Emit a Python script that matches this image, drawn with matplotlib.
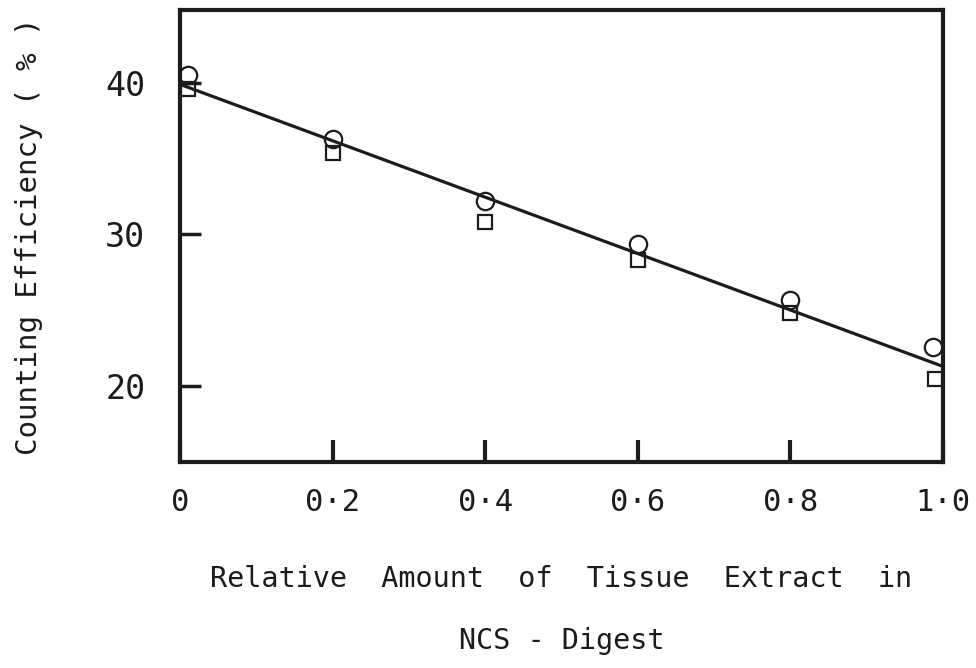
import matplotlib
matplotlib.use("Agg")
import matplotlib.pyplot as plt

# Data
x_circle = [0.01, 0.2, 0.4, 0.6, 0.8, 0.987]
y_circle = [40.5, 36.3, 32.2, 29.4, 25.7, 22.6]
x_square = [0.01, 0.2, 0.4, 0.6, 0.8, 0.99]
y_square = [39.6, 35.4, 30.8, 28.3, 24.8, 20.5]
line_x = [0.0, 1.0]
line_y = [39.9, 21.3]

x_ticks = [0, 0.2, 0.4, 0.6, 0.8, 1.0]
x_ticklabels = ["0", "0\u00b72", "0\u00b74", "0\u00b76", "0\u00b78", "1\u00b70"]
y_ticks = [20, 30, 40]
y_ticklabels = ["20", "30", "40"]

FONT = ['DejaVu Sans Mono', 'DejaVu Sans']
plt.rcParams['font.family'] = FONT
INK = "#1c1c1c"

fig = plt.figure(figsize=(9.76, 6.68), dpi=100)
ax = fig.add_axes([0.1844, 0.3084, 0.7818, 0.6766])

ax.plot(line_x, line_y, color=INK, lw=2.3, solid_capstyle="butt", zorder=2)
ax.plot(x_circle, y_circle, linestyle="none", marker="o", markersize=12.5,
        markerfacecolor="none", markeredgecolor=INK, markeredgewidth=1.6,
        clip_on=False, zorder=3)
ax.plot(x_square, y_square, linestyle="none", marker="s", markersize=10.5,
        markerfacecolor="none", markeredgecolor=INK, markeredgewidth=1.6,
        clip_on=False, zorder=3)

ax.set_xlim(0, 1.0)
ax.set_ylim(15, 44.8)

for s in ax.spines.values():
    s.set_linewidth(3.0)
    s.set_color(INK)

ax.set_xticks(x_ticks)
ax.set_xticklabels(x_ticklabels, fontsize=22, color=INK)
ax.set_yticks(y_ticks)
ax.set_yticklabels(y_ticklabels, fontsize=24, color=INK)
ax.tick_params(axis="x", direction="in", length=16, width=3, pad=19, colors=INK)
ax.tick_params(axis="y", direction="in", length=15, width=2.5, pad=25, colors=INK)

ax.set_xlabel("Relative  Amount  of  Tissue  Extract  in\n\nNCS - Digest",
              fontsize=20.5, color=INK, labelpad=34, linespacing=1.15)
ax.set_ylabel("Counting Efficiency ( % )", fontsize=21, color=INK, labelpad=45)

fig.savefig("out.png", dpi=100, facecolor="white")
